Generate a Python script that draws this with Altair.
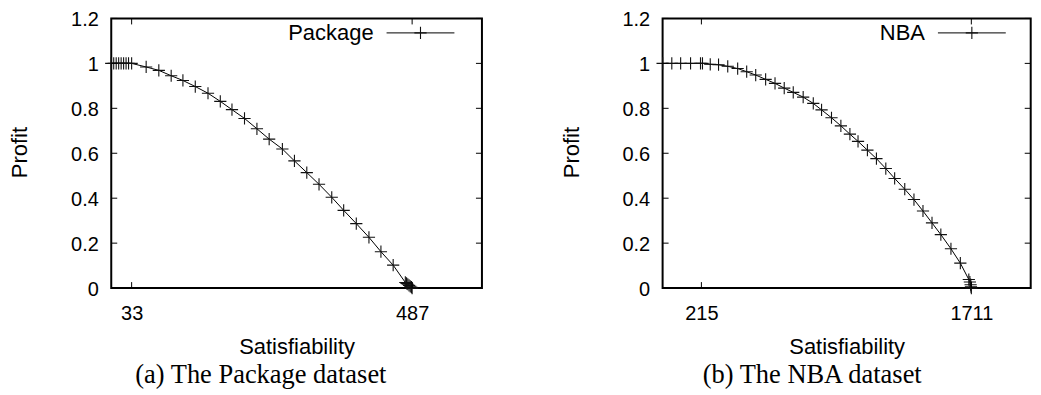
import altair as alt
import pandas as pd

# ---------------- data ----------------
pkg_x = [0, 4, 8, 12, 16, 20, 24, 28, 33,
         56.5, 77, 97, 116, 136, 156.6, 176.5, 195.4, 215.7, 235.8, 255.6,
         277, 296.5, 316.5, 336.3, 356.9, 376.2, 396.6, 417.1, 436.5, 456.3,
         476, 478, 480, 482, 484, 486, 487]
pkg_y = [1, 1, 1, 1, 1, 1, 1, 1, 1,
         0.984, 0.969, 0.945, 0.924, 0.897, 0.867, 0.831, 0.794, 0.755, 0.709, 0.663,
         0.619, 0.566, 0.514, 0.462, 0.404, 0.346, 0.287, 0.226, 0.162, 0.102,
         0.025, 0.021, 0.017, 0.012, 0.008, 0.004, 0.0]

nba_x = [0, 51, 100, 155, 210, 221, 264, 310, 361, 416, 466, 516, 571, 623, 674,
         724, 779, 835, 881, 936, 988, 1038, 1083, 1135, 1185, 1237, 1286, 1342,
         1393, 1443, 1493, 1542, 1598, 1650, 1697, 1703, 1707, 1709, 1711]
nba_y = [1, 1, 1, 1, 1, 1, 0.996, 0.994, 0.987, 0.977, 0.963, 0.948, 0.929, 0.911, 0.890,
         0.871, 0.850, 0.822, 0.793, 0.758, 0.722, 0.685, 0.653, 0.614, 0.576, 0.532,
         0.488, 0.440, 0.394, 0.343, 0.290, 0.238, 0.175, 0.111, 0.038, 0.027, 0.015,
         0.006, 0.0]

y_ticks = [0, 0.2, 0.4, 0.6, 0.8, 1, 1.2]
pkg_xticks = [33, 487]
nba_xticks = [215, 1711]
series_names = ["Package", "NBA"]
captions = ["(a) The Package dataset", "(b) The NBA dataset"]
x_title = "Satisfiability"
y_title = "Profit"

# ---------------- styling ----------------
SANS = "Liberation Sans"
SERIF = "Liberation Serif"
LFS = 20      # tick labels
TFS = 22      # axis titles / legend
H = 270.3
CROSS = "M-1,0H1M0,-1V1"
TICK = 6


def panel(xs, ys, xticks, xmax, width, name, caption):
    df = pd.DataFrame({"x": xs, "y": ys})
    xscale = alt.Scale(domain=[0, xmax], nice=False, zero=False)
    yscale = alt.Scale(domain=[0, 1.2], nice=False, zero=False)
    xaxis = alt.Axis(values=xticks, format="d", title=x_title, ticks=False, tickSize=0,
                     domain=False, grid=False, labelPadding=15,
                     labelFont=SANS, labelFontSize=LFS, labelColor="black",
                     titleFont=SANS, titleFontSize=TFS, titleFontWeight="normal",
                     titleColor="black", titleY=59, titleBaseline="middle",
                     labelFlush=False)
    yaxis = alt.Axis(values=y_ticks, format="~g", title=y_title, ticks=False,
                     tickSize=0, domain=False, grid=False, labelPadding=13,
                     labelBaseline="alphabetic", labelOffset=7.2,
                     labelFont=SANS, labelFontSize=LFS, labelColor="black",
                     titleFont=SANS, titleFontSize=TFS, titleFontWeight="normal",
                     titleColor="black", titleX=-91.5, titleY=134,
                     titleAngle=270, titleBaseline="middle", labelFlush=False)
    X = alt.X("x:Q", scale=xscale, axis=xaxis)
    Y = alt.Y("y:Q", scale=yscale, axis=yaxis)

    line = alt.Chart(df).mark_line(color="black", strokeWidth=1).encode(x=X, y=Y)
    pts = alt.Chart(df).mark_point(shape=CROSS, size=150, filled=False,
                                   stroke="#111", strokeWidth=1.1,
                                   opacity=1).encode(x=X, y=Y)

    ydf = pd.DataFrame({"y": y_ticks})
    YT = alt.Y("y:Q", scale=yscale, axis=yaxis)
    yt_left = alt.Chart(ydf).mark_rule(color="black", strokeWidth=1).encode(
        y=YT, x=alt.value(0), x2=alt.value(TICK))
    yt_right = alt.Chart(ydf).mark_rule(color="black", strokeWidth=1).encode(
        y=YT, x=alt.value(width - TICK), x2=alt.value(width))

    xdf = pd.DataFrame({"x": xticks})
    XT = alt.X("x:Q", scale=xscale, axis=xaxis)
    xt_bot = alt.Chart(xdf).mark_rule(color="black", strokeWidth=1).encode(
        x=XT, y=alt.value(H - TICK), y2=alt.value(H))
    xt_top = alt.Chart(xdf).mark_rule(color="black", strokeWidth=1).encode(
        x=XT, y=alt.value(0), y2=alt.value(TICK))

    ldf = pd.DataFrame({"name": [name], "caption": [caption]})
    leg_text = alt.Chart(ldf).mark_text(align="right", baseline="middle",
                                        font=SANS, fontSize=TFS, color="black").encode(
        text="name:N", x=alt.value(263), y=alt.value(15))
    leg_line = alt.Chart(ldf).mark_rule(color="black", strokeWidth=1).encode(
        x=alt.value(276), x2=alt.value(344), y=alt.value(14.5))
    leg_pt = alt.Chart(ldf).mark_point(shape=CROSS, size=150, filled=False,
                                       stroke="#111", strokeWidth=1.1,
                                       opacity=1).encode(
        x=alt.value(310), y=alt.value(14.5))
    cap = alt.Chart(ldf).mark_text(align="center", baseline="middle",
                                   font=SERIF, fontSize=26.5, color="black").encode(
        text="caption:N", x=alt.value(150), y=alt.value(357.5))

    return alt.layer(line, pts, yt_left, yt_right, xt_bot, xt_top,
                     leg_text, leg_line, leg_pt, cap).properties(width=width, height=H)


left = panel(pkg_x, pkg_y, pkg_xticks, 600, 371.6, series_names[0], captions[0])
right = panel(nba_x, nba_y, nba_xticks, 2040, 369, series_names[1], captions[1])

chart = alt.hconcat(left, right, spacing=180.7, bounds="flush").properties(
    padding={"left": -0.5, "top": 0, "right": 0, "bottom": 0},
    background="white"
).configure_view(stroke="black", strokeWidth=2)

chart.save("out.html", embed_options={"renderer": "svg", "actions": False})
